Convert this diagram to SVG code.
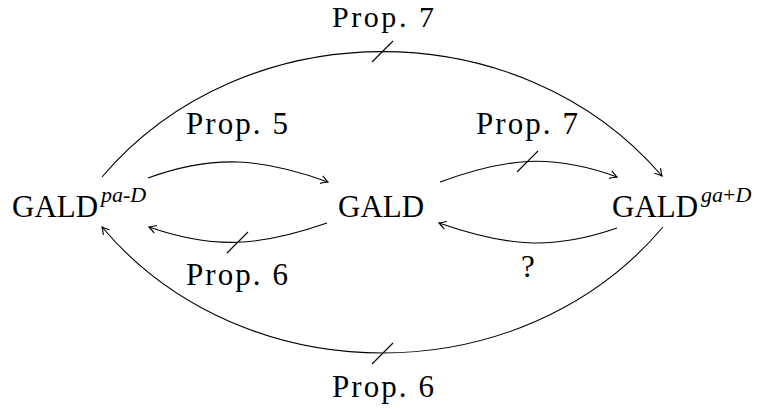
<svg xmlns="http://www.w3.org/2000/svg" width="759" height="409" viewBox="0 0 759 409">
<style>
text{font-family:"Liberation Serif","Times New Roman",serif;fill:#000}
.n{font-size:31px}
.s{font-size:22px;font-style:italic}
.u{font-style:normal}
.l{font-size:31px}
.e{fill:none;stroke:#000;stroke-width:1.1}
</style>
<defs>
<marker id="ah" markerUnits="userSpaceOnUse" viewBox="-9 -5 10 10" refX="0" refY="0" markerWidth="10" markerHeight="10" orient="auto">
<path d="M-7,-4 Q-2,-1 0,0 Q-2,1 -7,4" fill="none" stroke="#000" stroke-width="1.1"/>
</marker>
</defs>
<rect width="759" height="409" fill="#fff"/>
<g id="connectors">
<path class="e" d="M102,177 C244,10 520,10 662,176" marker-end="url(#ah)"/>
<path class="e" d="M663,227 C521,395 244,395 102,227" marker-end="url(#ah)"/>
<path class="e" d="M148,178 C214,154 262,158 328,182" marker-end="url(#ah)"/>
<path class="e" d="M327,223 C261,246 215,250 149,227" marker-end="url(#ah)"/>
<path class="e" d="M440,182 C506,158 551,153 617,177" marker-end="url(#ah)"/>
<path class="e" d="M617,228 C551,251 505,246 439,223" marker-end="url(#ah)"/>
<line class="e" x1="372" y1="62" x2="393" y2="41"/>
<line class="e" x1="372" y1="364" x2="393" y2="343"/>
<line class="e" x1="227" y1="253" x2="248" y2="232"/>
<line class="e" x1="517" y1="172" x2="538" y2="151"/>
<text class="l" x="332" y="27" textLength="102" lengthAdjust="spacing" style="font-size:30px">Prop. 7</text>
<text class="l" x="332" y="397" textLength="102" lengthAdjust="spacing">Prop. 6</text>
<text class="l" x="186" y="134" textLength="102" lengthAdjust="spacing">Prop. 5</text>
<text class="l" x="476" y="134" textLength="102" lengthAdjust="spacing">Prop. 7</text>
<text class="l" x="186" y="285" textLength="102" lengthAdjust="spacing">Prop. 6</text>
<text class="l" x="528" y="277" text-anchor="middle">?</text>
</g>
<g id="node-pa">
<text class="n" x="12" y="217">GALD</text>
<text class="s" x="101" y="202">pa<tspan class="u">-</tspan>D</text>
</g>
<g id="node-gald">
<text class="n" x="338" y="217">GALD</text>
</g>
<g id="node-ga">
<text class="n" x="612" y="217">GALD</text>
<text class="s" x="701" y="202">ga<tspan class="u">+</tspan>D</text>
</g>
</svg>
